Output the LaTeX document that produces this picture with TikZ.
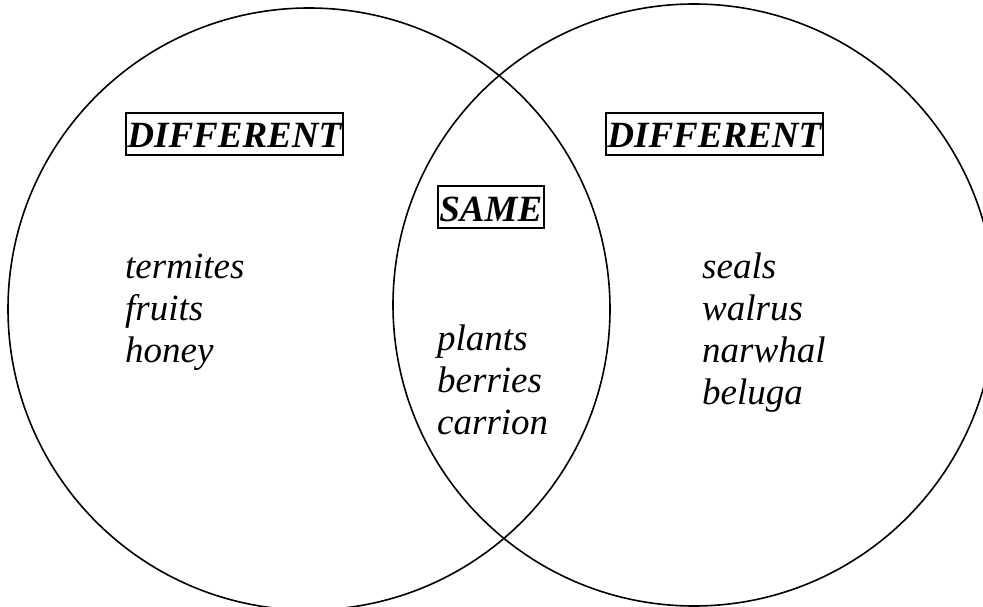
\documentclass[tikz,border=0pt]{standalone}
\usepackage{fontspec}
\setmainfont{Liberation Serif}
\usetikzlibrary{positioning}

\begin{document}
\begin{tikzpicture}[
    x=1pt, y=-1pt,
    ring/.style={line width=1.6pt},
    tag/.style={draw, line width=1.8pt, inner xsep=1.5pt, inner ysep=0pt, text height=35pt, text depth=7pt, font=\fontsize{37}{42}\selectfont\bfseries\itshape, anchor=base west},
    item/.style={inner sep=0pt, font=\fontsize{37}{42}\selectfont\itshape, anchor=base west}
]

% Page frame
\clip (0,0) rectangle (983,607);

% Circles
\draw[ring] (309,309) circle (301);
\draw[ring] (694,305) circle (301);

% Headings
\node[tag] (diffleft) at (125,148) {DIFFERENT};
\node[tag] (same) at (437,221) {SAME};
\node[tag] (diffright) at (605,148) {DIFFERENT};

% Left only
\foreach \w [count=\i] in {termites,fruits,honey}
    \node[item] (left\i) at (125,236+42*\i) {\w};

% Both
\foreach \w [count=\i] in {plants,berries,carrion}
    \node[item] (mid\i) at (437,308+42*\i) {\w};

% Right only
\foreach \w [count=\i] in {seals,walrus,narwhal,beluga}
    \node[item] (right\i) at (702,236+42*\i) {\w};

\end{tikzpicture}
\end{document}
